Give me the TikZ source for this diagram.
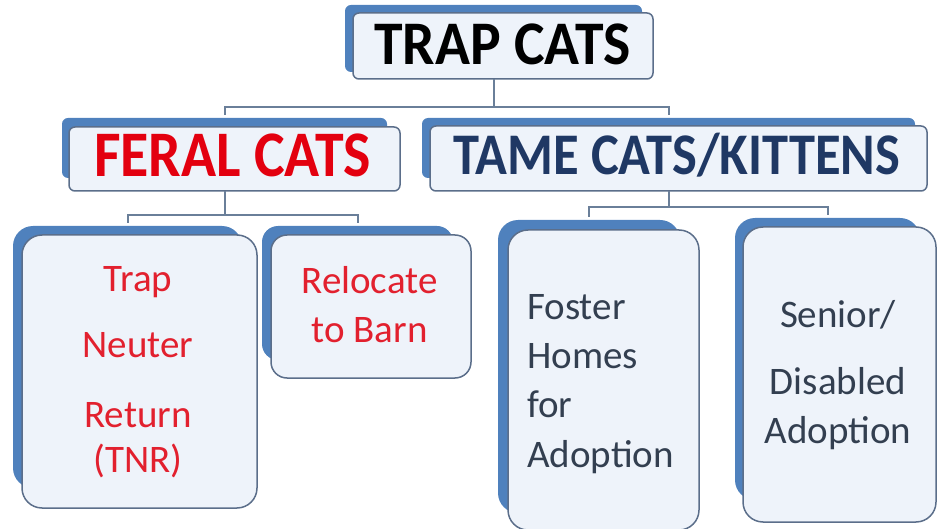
\documentclass[tikz,border=0pt]{standalone}
\usepackage{fontspec}
\usepackage{graphicx}
\setmainfont{Carlito}
\definecolor{shadowblue}{HTML}{4F81BD}
\definecolor{boxfill}{HTML}{EEF3FA}
\definecolor{boxline}{HTML}{5B6E8A}
\definecolor{connline}{HTML}{6A7F99}
\definecolor{feralred}{HTML}{E3000F}
\definecolor{softred}{HTML}{E2202E}
\definecolor{navy}{HTML}{1F3864}
\definecolor{slate}{HTML}{333F50}
\tikzset{
  shad/.style={fill=shadowblue, draw=none, rounded corners=#1, inner sep=0pt, outer sep=0pt},
  front/.style={fill=boxfill, draw=boxline, line width=1.5pt, rounded corners=#1, inner sep=0pt, outer sep=0pt},
  conn/.style={draw=connline, line width=2pt},
  headtxt/.style={anchor=base, inner sep=0pt, font=\fontsize{#1}{#1}\selectfont\bfseries},
  bodytxt/.style={anchor=base, inner sep=0pt, font=\fontsize{39}{44}\selectfont},
}
\begin{document}
\begin{tikzpicture}[x=1pt,y=-1pt]
\useasboundingbox (0,0) rectangle (940,529);
% ---- top level
\node[shad=6pt, minimum width=297pt, minimum height=67pt] (trapS) at (493.5,38.5) {};
\node[front=6pt, minimum width=300pt, minimum height=66pt] (trap) at (503,46) {};
\node[headtxt=62, text=black] (trapT) at (502.5,65) {\scalebox{0.93}[1]{TRAP CATS}};
% ---- second level
\node[shad=6pt, minimum width=325pt, minimum height=60pt] (feralS) at (224.5,148) {};
\node[front=6pt, minimum width=331pt, minimum height=64pt] (feral) at (234.5,159) {};
\node[headtxt=65, text=feralred] (feralT) at (232.5,177) {\scalebox{0.89}[1]{FERAL CATS}};
\node[shad=6pt, minimum width=493pt, minimum height=60pt] (tameS) at (668.5,148) {};
\node[front=6pt, minimum width=497pt, minimum height=65pt] (tame) at (678.5,158.5) {};
\node[headtxt=59, text=navy] (tameT) at (677,175) {\scalebox{0.89}[1]{TAME CATS/KITTENS}};
% ---- third level
\node[shad=20pt, minimum width=229pt, minimum height=262pt] (tnrS) at (127.5,357) {};
\node[front=20pt, minimum width=235pt, minimum height=273pt] (tnr) at (139.5,371.5) {};
\node[bodytxt, text=softred] (tnr1) at (138,292) {Trap};
\node[bodytxt, text=softred] (tnr2) at (138,358) {Neuter};
\node[bodytxt, text=softred] (tnr3) at (138,427) {Return};
\node[bodytxt, text=softred] (tnr4) at (138,472) {(TNR)};
\node[shad=16pt, minimum width=191pt, minimum height=134pt] (relS) at (357.5,293) {};
\node[front=16pt, minimum width=200pt, minimum height=143pt] (rel) at (371,306.5) {};
\node[bodytxt, text=softred] (rel1) at (369.5,294) {Relocate};
\node[bodytxt, text=softred] (rel2) at (369.5,342) {to Barn};
\node[shad=20pt, minimum width=182pt, minimum height=293pt] (fosS) at (589,366.5) {};
\node[front=20pt, minimum width=191pt, minimum height=300pt] (fos) at (603.5,380) {};
\node[bodytxt, text=slate, anchor=base west] (fos1) at (527,320) {Foster};
\node[bodytxt, text=slate, anchor=base west] (fos2) at (527,368) {Homes};
\node[bodytxt, text=slate, anchor=base west] (fos3) at (527,417) {for};
\node[bodytxt, text=slate, anchor=base west] (fos4) at (527,467) {Adoption};
\node[shad=20pt, minimum width=185pt, minimum height=282pt] (senS) at (827.5,359) {};
\node[front=20pt, minimum width=193pt, minimum height=295pt] (sen) at (839.5,374.5) {};
\node[bodytxt, text=slate] (sen1) at (838,327) {Senior/};
\node[bodytxt, text=slate] (sen2) at (838,395) {Disabled};
\node[bodytxt, text=slate] (sen3) at (838,443) {Adoption};
% ---- connectors
\coordinate (bus1) at (0,107);
\coordinate (bus2) at (0,215);
\coordinate (bus3) at (0,207);
\draw[conn] (trapS.south |- trap.south) -- (trapS.south |- bus1);
\draw[conn, shorten <=3pt, shorten >=3pt] (feralS.north) -- (feralS.north |- bus1) -- (tameS.north |- bus1) -- (tameS.north);
\draw[conn] (feralS.south |- feral.south) -- (feralS.south |- bus2);
\draw[conn, shorten <=3pt, shorten >=3pt] (tnrS.north) -- (tnrS.north |- bus2) -- (relS.north |- bus2) -- (relS.north);
\draw[conn] (tameS.south |- tame.south) -- (tameS.south |- bus3);
\draw[conn, shorten <=3pt, shorten >=3pt] (fosS.north) -- (fosS.north |- bus3) -- (senS.north |- bus3) -- (senS.north);
\end{tikzpicture}
\end{document}
